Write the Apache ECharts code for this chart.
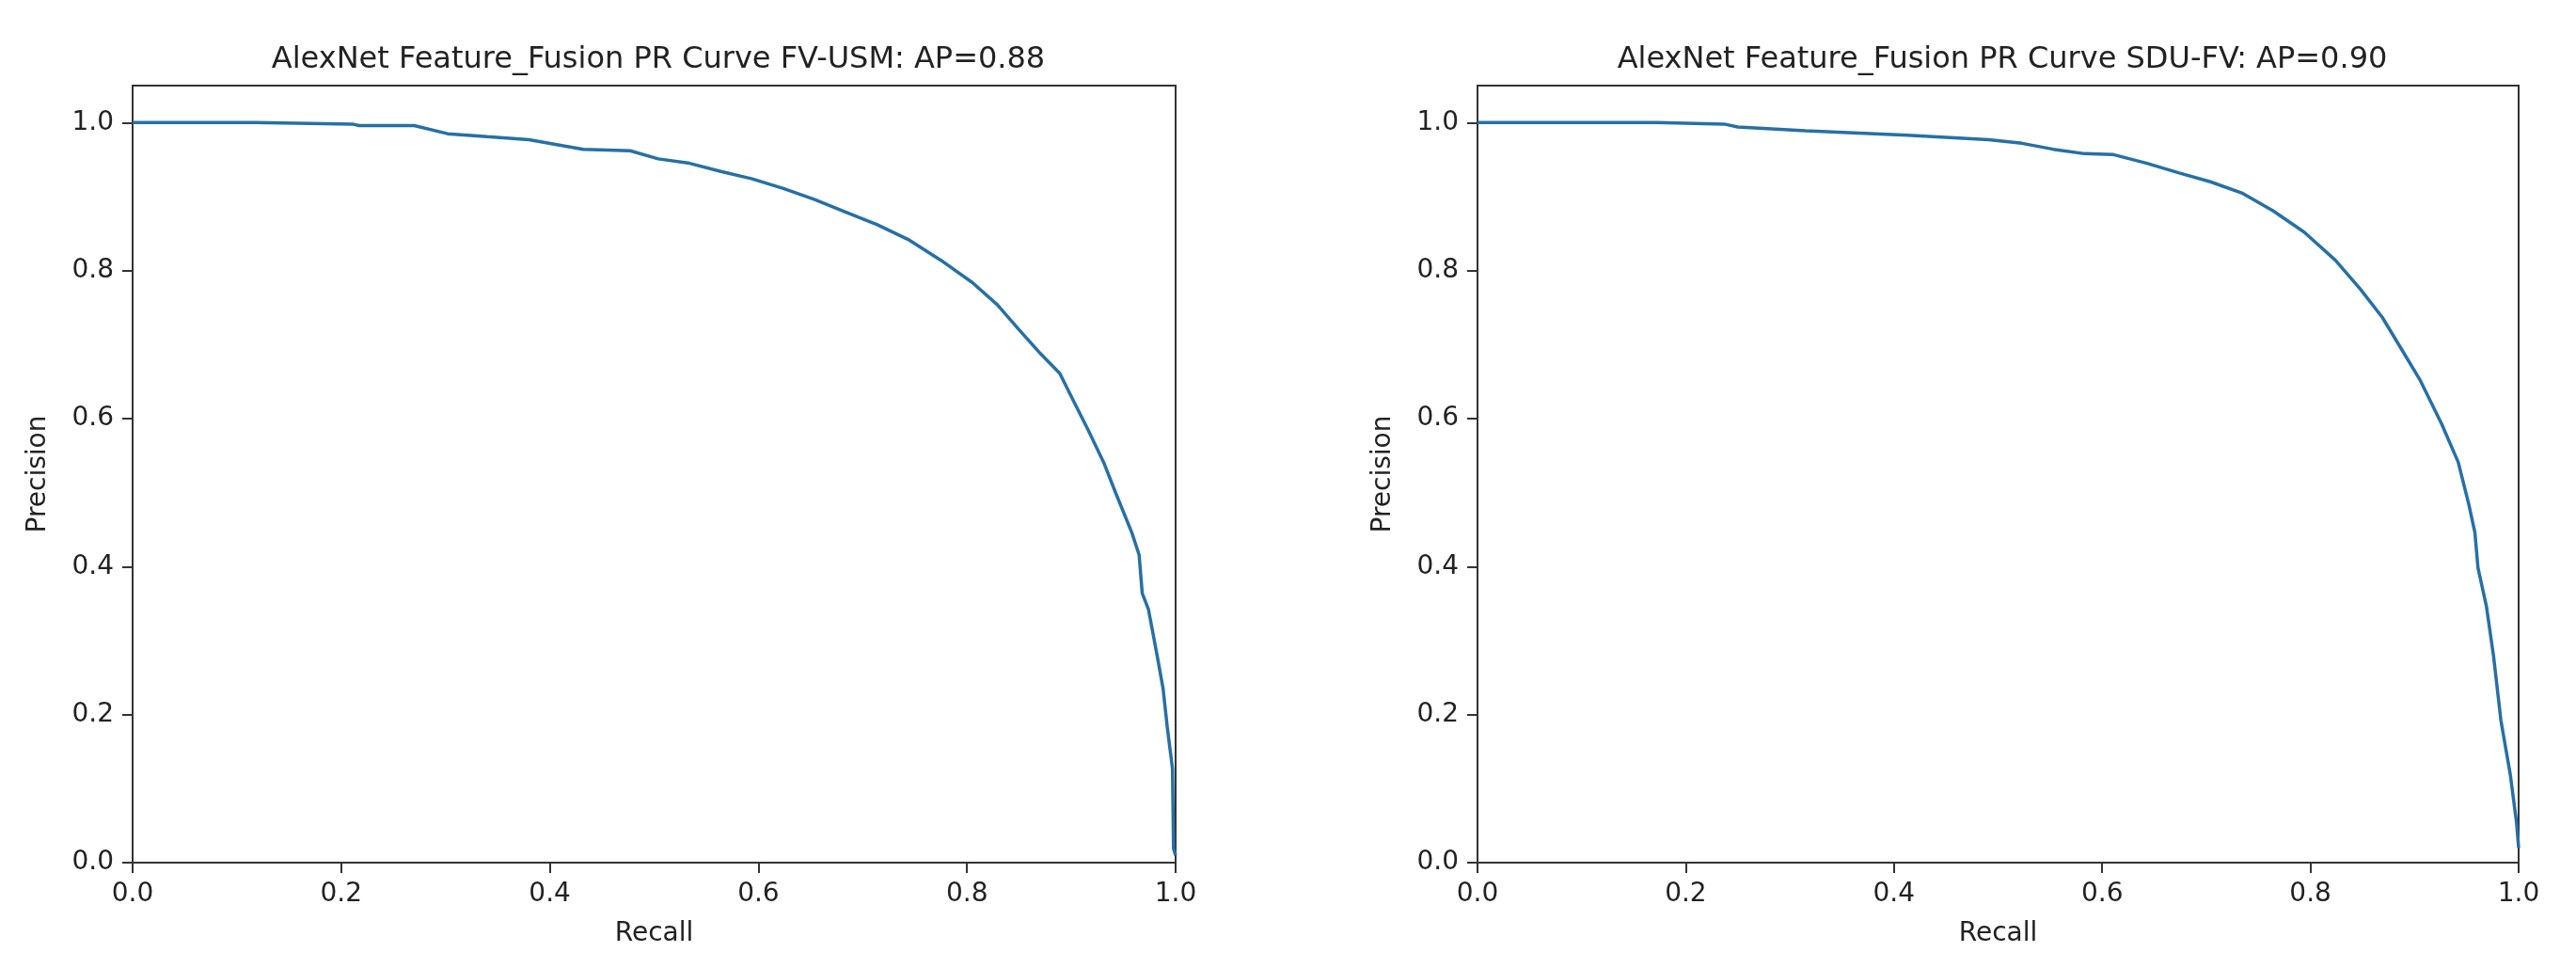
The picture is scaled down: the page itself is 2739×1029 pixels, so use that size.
<!DOCTYPE html>
<html>
<head>
<meta charset="utf-8">
<script src="https://cdn.jsdelivr.net/npm/echarts@6/dist/echarts.min.js"></script>
<style>
html,body{margin:0;padding:0;background:#fff;}
#chart{width:2739px;height:1029px;}
</style>
</head>
<body>
<div id="chart"></div>
<script>
// ---- Data ----
const titles = [
  "AlexNet Feature_Fusion PR Curve FV-USM: AP=0.88",
  "AlexNet Feature_Fusion PR Curve SDU-FV: AP=0.90"
];
const xAxisName = "Recall";
const yAxisName = "Precision";
const tickValues = [0, 0.2, 0.4, 0.6, 0.8, 1.0];

const recallFVUSM = [0, 0.117, 0.118, 0.211, 0.217, 0.270, 0.302, 0.340, 0.380, 0.432, 0.477, 0.504, 0.534, 0.564, 0.594, 0.624, 0.654, 0.684, 0.714, 0.745, 0.775, 0.805, 0.829, 0.850, 0.871, 0.889, 0.901, 0.916, 0.931, 0.943, 0.958, 0.965, 0.968, 0.974, 0.982, 0.988, 0.992, 0.997, 0.998, 1.0];
const precisionFVUSM = [1.0, 1.0, 0.998, 0.998, 0.996, 0.996, 0.985, 0.981, 0.977, 0.964, 0.962, 0.951, 0.945, 0.934, 0.924, 0.911, 0.896, 0.879, 0.862, 0.841, 0.814, 0.784, 0.754, 0.720, 0.687, 0.661, 0.627, 0.585, 0.541, 0.498, 0.446, 0.416, 0.364, 0.342, 0.282, 0.235, 0.183, 0.127, 0.019, 0.010];

const recallSDUFV = [0, 0.172, 0.237, 0.250, 0.315, 0.413, 0.491, 0.523, 0.553, 0.583, 0.610, 0.643, 0.674, 0.704, 0.734, 0.764, 0.794, 0.824, 0.848, 0.869, 0.887, 0.905, 0.926, 0.942, 0.952, 0.958, 0.961, 0.969, 0.976, 0.983, 0.992, 0.998, 1.0];
const precisionSDUFV = [1.0, 1.0, 0.998, 0.994, 0.989, 0.983, 0.977, 0.972, 0.964, 0.958, 0.957, 0.945, 0.932, 0.920, 0.905, 0.881, 0.852, 0.814, 0.775, 0.737, 0.695, 0.653, 0.593, 0.541, 0.485, 0.446, 0.398, 0.347, 0.278, 0.192, 0.119, 0.054, 0.020];

// ---- Build chart ----
const zip = (a, b) => a.map((v, i) => [v, b[i]]);
const FONT = "DejaVu Sans";
const TXT = "#222";
const AX = "#333";
const LINE = "#2670a6";

const grids = [
  {left: 141, top: 91, width: 1109, height: 826},
  {left: 1571, top: 91, width: 1107, height: 826}
];

function xAx(i) {
  return {
    type: 'value', gridIndex: i, min: 0, max: 1, interval: 0.2,
    name: xAxisName, nameLocation: 'middle', nameGap: 62,
    nameTextStyle: {fontFamily: FONT, fontSize: 28, color: TXT},
    axisLine: {show: true, lineStyle: {color: AX, width: 2}},
    axisTick: {show: true, inside: false, length: 11, lineStyle: {color: AX, width: 2}, customValues: tickValues},
    axisLabel: {show: true, margin: 20, fontFamily: FONT, fontSize: 28, color: TXT, customValues: tickValues,
      formatter: v => v.toFixed(1)},
    splitLine: {show: false}
  };
}
function yAx(i) {
  return {
    type: 'value', gridIndex: i, min: 0, max: 1.05,
    name: yAxisName, nameLocation: 'middle', nameGap: 86, nameRotate: 90,
    nameTextStyle: {fontFamily: FONT, fontSize: 28, color: TXT},
    axisLine: {show: true, lineStyle: {color: AX, width: 2}},
    axisTick: {show: true, inside: false, length: 11, lineStyle: {color: AX, width: 2}, customValues: tickValues},
    axisLabel: {show: true, margin: 20, fontFamily: FONT, fontSize: 28, color: TXT, customValues: tickValues,
      formatter: v => v.toFixed(1)},
    splitLine: {show: false}
  };
}

const chart = echarts.init(document.getElementById('chart'), null, {renderer: 'canvas'});
chart.setOption({
  backgroundColor: '#fff',
  animation: false,
  title: [
    {text: titles[0], left: 695, top: 43, textAlign: 'center',
     textStyle: {fontFamily: FONT, fontSize: 32, fontWeight: 'normal', color: TXT}},
    {text: titles[1], left: 2124, top: 43, textAlign: 'center',
     textStyle: {fontFamily: FONT, fontSize: 32, fontWeight: 'normal', color: TXT}}
  ],
  grid: grids.map(g => Object.assign({show: true, borderColor: AX, borderWidth: 2, backgroundColor: '#fff', containLabel: false}, g)),
  xAxis: [xAx(0), xAx(1)],
  yAxis: [yAx(0), yAx(1)],
  series: [
    {type: 'line', xAxisIndex: 0, yAxisIndex: 0, data: zip(recallFVUSM, precisionFVUSM),
     showSymbol: false, lineStyle: {color: LINE, width: 3.5}, itemStyle: {color: LINE}},
    {type: 'line', xAxisIndex: 1, yAxisIndex: 1, data: zip(recallSDUFV, precisionSDUFV),
     showSymbol: false, lineStyle: {color: LINE, width: 3.5}, itemStyle: {color: LINE}}
  ]
});
</script>
</body>
</html>
